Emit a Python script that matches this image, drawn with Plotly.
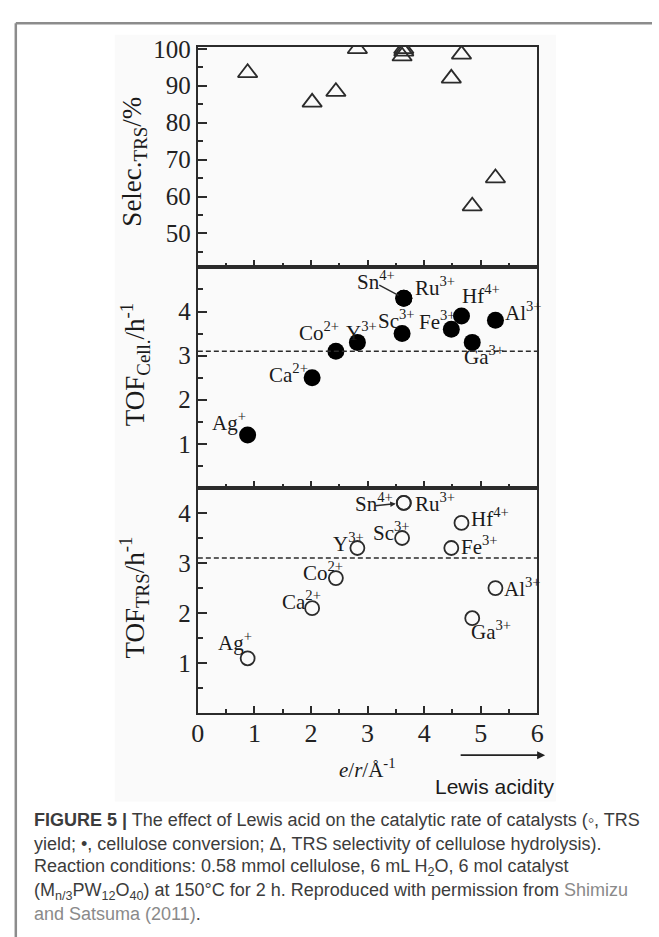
import numpy as np
import plotly.graph_objects as go

# ---------------- data ----------------
IONS = ["Ag", "Ca", "Co", "Y", "Sc", "Sn", "Ru", "Fe", "Hf", "Ga", "Al"]
CHARGES = ["+", "2+", "2+", "3+", "3+", "4+", "3+", "3+", "4+", "3+", "3+"]
E_OVER_R = [0.88, 2.02, 2.44, 2.82, 3.61, 3.64, 3.64, 4.48, 4.66, 4.85, 5.26]   # e/r, Å^-1
SELEC_TRS = [93.5, 85.5, 88.4, 100.0, 98.0, 100.0, 99.3, 92.0, 98.5, 57.4, 65.0]  # %
TOF_CELL = [1.2, 2.5, 3.1, 3.3, 3.5, 4.3, 4.3, 3.6, 3.9, 3.3, 3.8]              # h^-1
TOF_TRS = [1.1, 2.1, 2.7, 3.3, 3.5, 4.2, 4.2, 3.3, 3.8, 1.9, 2.5]               # h^-1
REF_LEVEL = 3.1  # dashed reference line, h^-1

X_TICKS = [0, 1, 2, 3, 4, 5, 6]
SELEC_TICKS = [50, 60, 70, 80, 90, 100]
TOF_CELL_TICKS = [1, 2, 3, 4]
TOF_TRS_TICKS = [1, 2, 3, 4]

# ---------------- styling ----------------
W, H = 659, 937
SERIF = "Liberation Serif, Times New Roman, serif"
SANS = "Liberation Sans, Arial, sans-serif"
INK = "#2b2b2b"


def px(x):
    return x / W


def py(y):
    return 1 - y / H


X_DOM = [px(195.7), px(542)]
PANELS = {  # pixel top/bottom of each panel
    "top": (36, 259.5),
    "mid": (259.5, 482.5),
    "bot": (482.5, 710.8),
}

# label offsets (pixels right / down from the marker) for the ion names
MID_LABEL_OFF = {
    "Ag": (-38, -9), "Ca": (-45, 0), "Co": (-39, -16), "Y": (-13, -7),
    "Sc": (-26, -10), "Ru": (9, -8), "Fe": (-34, -5), "Hf": (-1, -17),
    "Ga": (-10, 17), "Al": (8, -5),
}
BOT_LABEL_OFF = {
    "Ag": (-32, -13), "Ca": (-32, -4), "Co": (-35, -3), "Y": (-26, -2),
    "Sc": (-31, -2), "Ru": (9, 4), "Fe": (8, 1), "Hf": (8, -1),
    "Ga": (-3, 16), "Al": (7, 3),
}
SN_MID = dict(text_off=(-49, -14), tail=(-26, -14), standoff=6, head=0)
SN_BOT = dict(text_off=(-51, 4), tail=(-30, 3), standoff=8, head=2)

fig = go.Figure()

fig.add_trace(go.Scatter(
    x=E_OVER_R, y=SELEC_TRS, mode="markers", xaxis="x", yaxis="y",
    marker=dict(symbol="triangle-up-open", size=17, color=INK, line=dict(width=1.8, color=INK)),
    text=IONS, hoverinfo="text+y", showlegend=False))
fig.add_trace(go.Scatter(
    x=E_OVER_R, y=TOF_CELL, mode="markers", xaxis="x2", yaxis="y2",
    marker=dict(symbol="circle", size=17, color="#000"),
    text=IONS, hoverinfo="text+y", showlegend=False))
fig.add_trace(go.Scatter(
    x=E_OVER_R, y=TOF_TRS, mode="markers", xaxis="x3", yaxis="y3",
    marker=dict(symbol="circle-open", size=14, color=INK, line=dict(width=1.8, color=INK)),
    text=IONS, hoverinfo="text+y", showlegend=False))


def xaxis_cfg(anchor, labels):
    return dict(
        domain=X_DOM, anchor=anchor, range=[0, 6], tickvals=X_TICKS,
        showticklabels=labels, ticks="inside", ticklen=7, tickwidth=1.5, tickcolor=INK,
        minor=dict(tickvals=list(np.arange(0.5, 6, 1.0)), ticks="inside", ticklen=4,
                   tickwidth=1.5, tickcolor=INK),
        showline=True, linecolor=INK, linewidth=2, mirror=True,
        showgrid=False, zeroline=False, ticklabelstandoff=-5,
        tickfont=dict(family=SERIF, size=26, color="#222"),
    )


def yaxis_cfg(anchor, panel, rng, ticks, minor):
    t, b = PANELS[panel]
    return dict(
        domain=[py(b), py(t)], anchor=anchor, range=rng, tickvals=ticks,
        ticks="inside", ticklen=9, tickwidth=1.5, tickcolor=INK,
        minor=dict(tickvals=minor, ticks="inside", ticklen=5, tickwidth=1.5, tickcolor=INK),
        showline=True, linecolor=INK, linewidth=2, mirror=True,
        showgrid=False, zeroline=False,
        tickfont=dict(family=SERIF, size=25, color="#222"),
    )


annotations = []
shapes = []

# faint backdrop of the chart block and the page frame
shapes.append(dict(type="rect", xref="paper", yref="paper", x0=px(111), x1=px(561),
                   y0=py(800), y1=py(24), fillcolor="#fafafa", line=dict(width=0), layer="below"))
shapes.append(dict(type="line", xref="paper", yref="paper", x0=px(10), x1=px(10),
                   y0=py(12.5), y1=0, line=dict(color="#8c8c8c", width=2.5)))
shapes.append(dict(type="line", xref="paper", yref="paper", x0=px(10), x1=1,
                   y0=py(12.5), y1=py(12.5), line=dict(color="#8c8c8c", width=2.5)))

# dashed reference lines
for xr, yr in (("x2", "y2"), ("x3", "y3")):
    shapes.append(dict(type="line", xref=f"{xr} domain", yref=yr, x0=0, x1=1,
                       y0=REF_LEVEL, y1=REF_LEVEL,
                       line=dict(color=INK, width=1.5, dash="5px,3px")))

LABEL_FONT = dict(family=SERIF, size=21, color="#1a1a1a")
SUP_CORR = 4  # box middle sits above the main glyph centre because of the superscript


def ion_labels(xr, yr, values, offsets, sn):
    for ion, ch, xv, yv in zip(IONS, CHARGES, E_OVER_R, values):
        txt = f"{ion}<sup>{ch}</sup>"
        if ion == "Sn":
            dx, dy = sn["text_off"]
            annotations.append(dict(x=xv, y=yv, xref=xr, yref=yr, text=txt, showarrow=False,
                                    xanchor="left", yanchor="middle", xshift=dx,
                                    yshift=-dy + SUP_CORR, font=LABEL_FONT))
            ax, ay = sn["tail"]
            annotations.append(dict(x=xv, y=yv, xref=xr, yref=yr, text="", showarrow=True,
                                    ax=ax, ay=ay, arrowhead=sn["head"], arrowsize=0.8,
                                    arrowwidth=1.4, arrowcolor=INK, standoff=sn["standoff"]))
            continue
        dx, dy = offsets[ion]
        annotations.append(dict(x=xv, y=yv, xref=xr, yref=yr, text=txt, showarrow=False,
                                xanchor="left", yanchor="middle", xshift=dx,
                                yshift=-dy + SUP_CORR, font=LABEL_FONT))


ion_labels("x2", "y2", TOF_CELL, MID_LABEL_OFF, SN_MID)
ion_labels("x3", "y3", TOF_TRS, BOT_LABEL_OFF, SN_BOT)

# axis titles
TITLE_FONT = dict(family=SERIF, size=27, color="#1a1a1a")
for txt, yc in (("Selec.<sub>TRS</sub>/%", 152),
                ("TOF<sub>Cell.</sub>/h<sup>-1</sup>", 357),
                ("TOF<sub>TRS</sub>/h<sup>-1</sup>", 593)):
    annotations.append(dict(x=px(131), y=py(yc), xref="paper", yref="paper", text=txt,
                            textangle=-90, showarrow=False, xanchor="center", yanchor="middle",
                            font=TITLE_FONT))

annotations.append(dict(x=px(369), y=py(766), xref="paper", yref="paper",
                        text="<i>e</i>/<i>r</i>/Å<sup>-1</sup>", showarrow=False,
                        xanchor="center", yanchor="middle",
                        font=dict(family=SERIF, size=21, color="#1a1a1a")))
annotations.append(dict(x=px(550), y=py(753), xref="paper", yref="paper", text="",
                        showarrow=True, ax=-86, ay=0, arrowhead=2, arrowsize=1,
                        arrowwidth=1.6, arrowcolor="#222"))
annotations.append(dict(x=px(499), y=py(785), xref="paper", yref="paper",
                        text="Lewis acidity", showarrow=False,
                        xanchor="center", yanchor="middle",
                        font=dict(family=SANS, size=21, color="#1a1a1a")))

# caption
LINK = "#8a8a8a"
CAPTION = [
    "<b>FIGURE 5 |</b> The effect of Lewis acid on the catalytic rate of catalysts (◦, TRS",
    "yield; •, cellulose conversion; Δ, TRS selectivity of cellulose hydrolysis).",
    "Reaction conditions: 0.58 mmol cellulose, 6 mL H<sub>2</sub>O, 6 mol catalyst",
    "(M<sub>n/3</sub>PW<sub>12</sub>O<sub>40</sub>) at 150°C for 2 h. Reproduced with "
    f"permission from <span style='color:{LINK}'>Shimizu</span>",
    f"<span style='color:{LINK}'>and Satsuma (2011)</span>.",
]
CAPTION_Y = [819, 843, 867, 891, 914]
for line, yc in zip(CAPTION, CAPTION_Y):
    annotations.append(dict(x=px(27), y=py(yc), xref="paper", yref="paper", text=line,
                            showarrow=False, xanchor="left", yanchor="middle",
                            font=dict(family=SANS, size=18, color="#3c3c3c")))

fig.update_layout(
    width=W, height=H, margin=dict(l=0, r=0, t=0, b=0),
    paper_bgcolor="white", plot_bgcolor="rgba(0,0,0,0)",
    xaxis=xaxis_cfg("y", False),
    xaxis2=xaxis_cfg("y2", False),
    xaxis3=xaxis_cfg("y3", True),
    yaxis=yaxis_cfg("x", "top", [40.8, 100.6], SELEC_TICKS, list(range(45, 100, 10))),
    yaxis2=yaxis_cfg("x2", "mid", [0, 5], TOF_CELL_TICKS, list(np.arange(0.5, 5, 1.0))),
    yaxis3=yaxis_cfg("x3", "bot", [0, 4.5], TOF_TRS_TICKS, list(np.arange(0.5, 4.5, 1.0))),
    annotations=annotations, shapes=shapes,
)

fig.write_html("out.html")
